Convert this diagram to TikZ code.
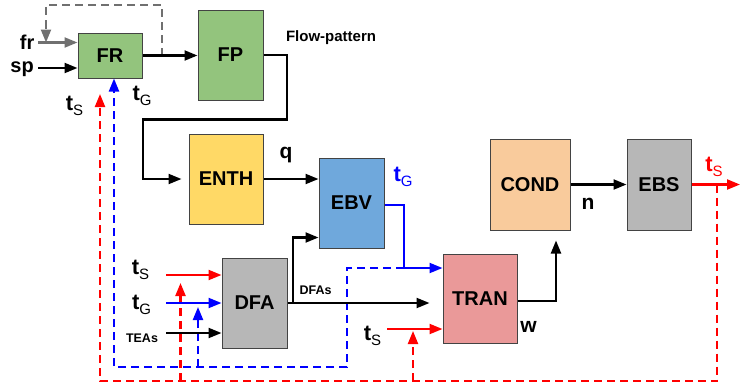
\documentclass[tikz,border=0pt]{standalone}
\usepackage{fontspec}
\setmainfont{Liberation Sans}
\usetikzlibrary{arrows.meta,calc}
\definecolor{cgreen}{HTML}{93C47D}
\definecolor{cyellow}{HTML}{FFD966}
\definecolor{cblue}{HTML}{6FA8DC}
\definecolor{cgray}{HTML}{B7B7B7}
\definecolor{cpink}{HTML}{EA9999}
\definecolor{corange}{HTML}{F9CB9C}
\definecolor{bordergray}{HTML}{434343}
\definecolor{lgray}{HTML}{707070}
\definecolor{pred}{HTML}{FF0000}
\definecolor{pblue}{HTML}{0000FF}
\newcommand{\tsub}[1]{{\fontsize{22}{22}\selectfont\bfseries t}\raisebox{-4.5pt}{\fontsize{15}{15}\selectfont #1}}
\begin{document}
\begin{tikzpicture}[x=1pt,y=-1pt,
  blk/.style={draw=bordergray,line width=1pt,inner sep=0pt,font=\fontsize{20}{20}\selectfont\bfseries},
  tip/.style={-{Triangle[length=13pt,width=10pt]}},
  conn/.style={line width=2.2pt,black,tip},
  rconn/.style={line width=2.2pt,pred,tip},
  bconn/.style={line width=2.2pt,pblue,tip},
  gconn/.style={line width=2.2pt,lgray,tip},
  dsh/.style={line width=2.2pt,dash pattern=on 8pt off 5pt,tip},
  rdash/.style={dsh,pred},
  bdash/.style={dsh,pblue},
  gdash/.style={dsh,lgray},
  lbl/.style={inner sep=0pt,font=\fontsize{20}{20}\selectfont\bfseries},
  slbl/.style={inner sep=0pt,font=\fontsize{12.5}{12.5}\selectfont\bfseries},
  tl/.style={inner sep=0pt}]
\useasboundingbox (0,0) rectangle (740,388);
% blocks
\node[blk,fill=cgreen,minimum width=64pt,minimum height=45pt] (FR) at (110,55.5) {FR};
\node[blk,fill=cgreen,minimum width=65pt,minimum height=90pt] (FP) at (230.5,55) {FP};
\node[blk,fill=cyellow,minimum width=74pt,minimum height=90pt] (ENTH) at (226,179) {ENTH};
\node[blk,fill=cblue,minimum width=65pt,minimum height=90pt] (EBV) at (351.5,203) {EBV};
\node[blk,fill=cgray,minimum width=65pt,minimum height=90pt] (DFA) at (254.5,303) {DFA};
\node[blk,fill=cpink,minimum width=74pt,minimum height=89pt] (TRAN) at (480,298.5) {TRAN};
\node[blk,fill=corange,minimum width=80pt,minimum height=91pt] (COND) at (530,184.5) {COND};
\node[blk,fill=cgray,minimum width=64pt,minimum height=91pt] (EBS) at (659,184.5) {EBS};
% coordinates
\coordinate (frstart) at (38,42.5);
\coordinate (spstart) at (38,68);
\coordinate (fbA) at (162,55.5);
\coordinate (frfb) at (46,42.5);
\coordinate (fpA) at (287,119.5);
\coordinate (fpB) at (143,179);
\coordinate (dfabr) at (293,303);
\coordinate (bj) at (404,268);
\coordinate (bA) at (347,367);
\coordinate (bbr) at (198,367);
\coordinate (bbrE) at (198,307);
\coordinate (ebsout) at (740,184.5);
\coordinate (rd) at (717,184.5);
\coordinate (rA) at (100,381);
\coordinate (rFR) at (100,94);
\coordinate (rb1) at (180.5,381);
\coordinate (rb1E) at (180.5,283);
\coordinate (rb2) at (413,381);
\coordinate (rb2E) at (413,331);
\coordinate (inS) at (166,275);
\coordinate (inG) at (166,303);
\coordinate (inT) at (166,333);
\coordinate (trS) at (387,329);
% dashed feedback lines (drawn first)
\draw[gdash] (fbA) -- ++(0,-50.5) -| (frfb);
\draw[rdash] (rd) |- (rA) -- (rFR);
\draw[rdash] (rb1) -- (rb1E);
\draw[rdash] (rb2) -- (rb2E);
\draw[bdash] (bj) -| (bA) -| ($(FR.south)+(4,0)$);
\draw[bdash] (bbr) -- (bbrE);
% connectors
\draw[gconn] (frstart) -- (frstart -| FR.west);
\draw[conn] (spstart) -- (spstart -| FR.west);
\draw[conn] (FR.east) -- (FR.east -| FP.west);
\draw[conn,shorten >=7pt] (FP.east) -| (fpA) -| (fpB) -- (ENTH.west);
\draw[conn] (ENTH.east) -- (ENTH.east -| EBV.west);
\draw[conn] (dfabr) |- ($(EBV.west)+(0,34.5)$);
\draw[conn,shorten >=13pt] (DFA.east) -- (DFA.east -| TRAN.west);
\draw[bconn] ($(EBV.east)+(0,2)$) -| (bj) -- (bj -| TRAN.west);
\draw[conn,shorten >=10pt] ($(TRAN.east)+(0,2.5)$) -| ($(COND.south)+(26,0)$);
\draw[conn] (COND.east) -- (COND.east -| EBS.west);
\draw[rconn] (EBS.east) -- (ebsout);
\draw[rconn] (inS) -- (inS -| DFA.west);
\draw[bconn] (inG) -- (inG -| DFA.west);
\draw[conn] (inT) -- (inT -| DFA.west);
\draw[rconn] (trS) -- (trS -| TRAN.west);
% labels
\node[lbl,anchor=base east] (Lfr) at (34.5,49) {fr};
\node[lbl,anchor=base east] (Lsp) at (34,72) {sp};
\node[slbl,anchor=base,font=\fontsize{15}{15}\selectfont\bfseries] (Lflow) at (331,41.7) {Flow-pattern};
\node[tl] (LtS1) at (74.5,106) {\tsub{S}};
\node[tl] (LtG1) at (142,96) {\tsub{G}};
\node[tl] (LtS2) at (140.5,270) {\tsub{S}};
\node[tl] (LtG2) at (141.5,305) {\tsub{G}};
\node[slbl] (LTEAs) at (142,338.5) {TEAs};
\node[slbl] (LDFAs) at (315.5,290) {DFAs};
\node[tl] (LtS3) at (372.5,336) {\tsub{S}};
\node[tl,text=pblue] (LtG3) at (403,177) {\tsub{G}};
\node[tl,text=pred] (LtS4) at (714,167) {\tsub{S}};
\node[lbl,font=\fontsize{21}{21}\selectfont\bfseries] (Lq) at (286,155) {q};
\node[lbl,font=\fontsize{21}{21}\selectfont\bfseries] (Ln) at (588,204) {n};
\node[lbl,font=\fontsize{21}{21}\selectfont\bfseries] (Lw) at (528.5,327) {w};
\end{tikzpicture}
\end{document}
